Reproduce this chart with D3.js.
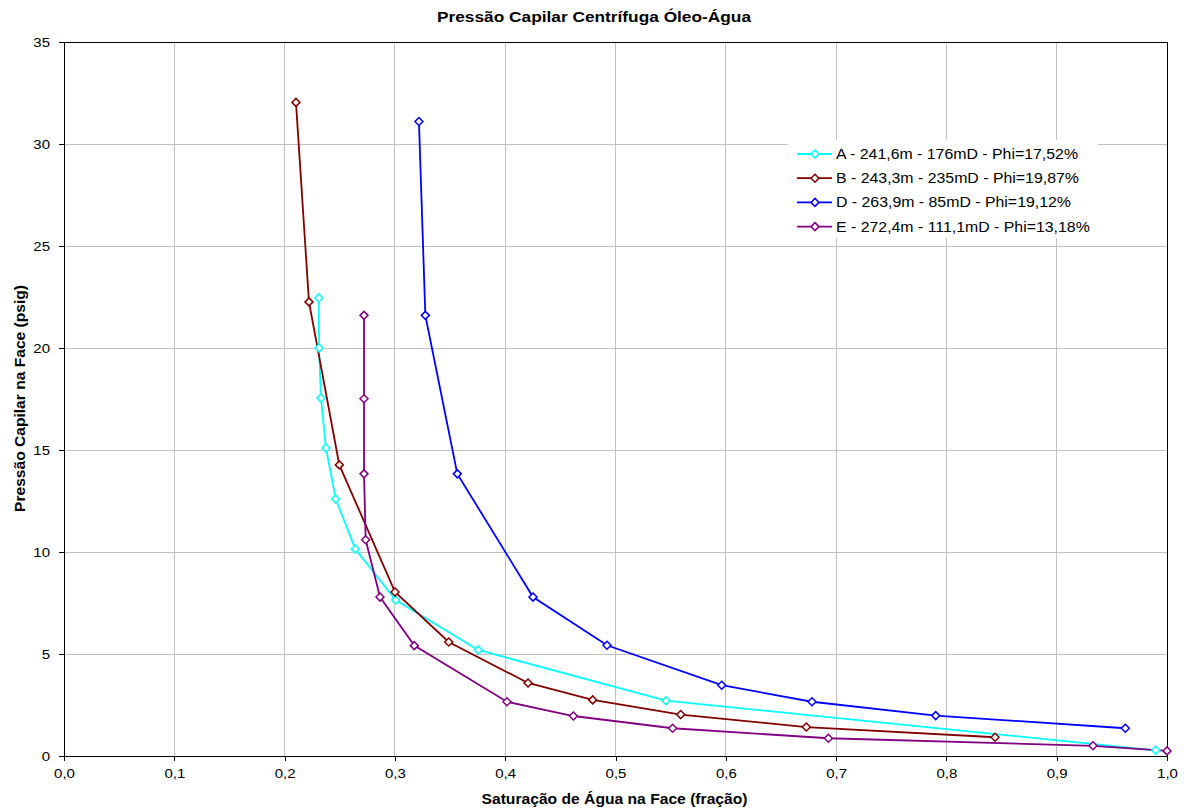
<!DOCTYPE html>
<html><head><meta charset="utf-8">
<script src="https://cdn.jsdelivr.net/npm/d3@7"></script>
<style>body{margin:0;background:#fff}text{font-family:"Liberation Sans",Arial,sans-serif}</style>
</head><body><svg id="c" width="1184" height="811"></svg>
<script>
const seriesNames = ["A - 241,6m - 176mD - Phi=17,52%","B - 243,3m - 235mD - Phi=19,87%","D - 263,9m - 85mD - Phi=19,12%","E - 272,4m - 111,1mD - Phi=13,18%"];
const seriesColors = ["#00FFFF","#800000","#0000FF","#800080"];
const swA = [0.231,0.2312,0.233,0.2375,0.2463,0.2641,0.3007,0.3756,0.5458,0.9898];
const pcA = [22.45,20.0,17.55,15.1,12.6,10.15,7.65,5.2,2.71,0.28];
const swB = [0.2103,0.2221,0.2496,0.3001,0.3488,0.4207,0.4793,0.5591,0.673,0.8441];
const pcB = [32.04,22.26,14.27,8.04,5.59,3.58,2.75,2.03,1.42,0.92];
const swD = [0.3218,0.3276,0.3566,0.4252,0.4923,0.5963,0.6781,0.7903,0.9622];
const pcD = [31.1,21.6,13.83,7.79,5.43,3.47,2.66,1.98,1.36];
const swE = [0.272,0.272,0.272,0.2735,0.2865,0.3176,0.4016,0.4618,0.5518,0.693,0.9329,1.0];
const pcE = [21.6,17.51,13.83,10.6,7.79,5.41,2.66,1.96,1.36,0.87,0.5,0.25];
const xTicks = [0,0.1,0.2,0.3,0.4,0.5,0.6,0.7,0.8,0.9,1.0];
const yTicks = [0,5,10,15,20,25,30,35];
const title = "Pressão Capilar Centrífuga Óleo-Água";
const xTitle = "Saturação de Água na Face (fração)";
const yTitle = "Pressão Capilar na Face (psig)";

const series = [[swA,pcA],[swB,pcB],[swD,pcD],[swE,pcE]].map((s,i)=>({name:seriesNames[i],color:seriesColors[i],pts:s[0].map((x,j)=>[x,s[1][j]])}));

const svg = d3.select("#c");
const L=64,R=1167,T=42,B=756;
const x = d3.scaleLinear().domain([0,1]).range([L,R]);
const y = d3.scaleLinear().domain([0,35]).range([B,T]);
const fmt = d=>d3.format(".1f")(d).replace(".",",");

function stretchTo(sel, w){ sel.attr("textLength", w).attr("lengthAdjust","spacingAndGlyphs"); }
function stretchBy(sel, k){ sel.each(function(){ const n=this.getComputedTextLength(); d3.select(this).attr("textLength", n*k).attr("lengthAdjust","spacingAndGlyphs"); }); }

// grid
svg.append("g").selectAll("line").data(xTicks.slice(1,-1)).join("line")
  .attr("x1",d=>x(d)).attr("x2",d=>x(d)).attr("y1",T).attr("y2",B)
  .attr("stroke","#c0c0c0").attr("stroke-width",1).attr("shape-rendering","crispEdges");
svg.append("g").selectAll("line").data(yTicks.slice(1,-1)).join("line")
  .attr("y1",d=>y(d)).attr("y2",d=>y(d)).attr("x1",L).attr("x2",R)
  .attr("stroke","#c0c0c0").attr("stroke-width",1).attr("shape-rendering","crispEdges");

// frame
svg.append("rect").attr("x",L).attr("y",T).attr("width",R-L).attr("height",B-T)
  .attr("fill","none").attr("stroke","#000").attr("stroke-width",1).attr("shape-rendering","crispEdges");

// axes
const xa = svg.append("g").attr("transform",`translate(0,${B})`)
  .call(d3.axisBottom(x).tickValues(xTicks).tickFormat(fmt).tickSizeOuter(0).tickSize(5).tickPadding(8));
const ya = svg.append("g").attr("transform",`translate(${L},0)`)
  .call(d3.axisLeft(y).tickValues(yTicks).tickFormat(d3.format("d")).tickSizeOuter(0).tickSize(5).tickPadding(9));
[xa,ya].forEach(a=>{a.select(".domain").attr("stroke","#000").attr("shape-rendering","crispEdges");
  a.selectAll(".tick line").attr("stroke","#000").attr("shape-rendering","crispEdges");
  a.selectAll("text").attr("font-size",12.5).attr("fill","#000").attr("font-family","Liberation Sans, Arial, sans-serif");
  stretchBy(a.selectAll("text"),1.2);});

// lines
const line = d3.line().x(d=>x(d[0])).y(d=>y(d[1]));
const diamond = (cx,cy,r)=>`M${cx},${cy-r}L${cx+r},${cy}L${cx},${cy+r}L${cx-r},${cy}Z`;
series.forEach(s=>{
  svg.append("path").attr("d",line(s.pts)).attr("fill","none").attr("stroke",s.color).attr("stroke-width",1.8);
});
series.forEach(s=>{
  svg.append("g").selectAll("path").data(s.pts).join("path")
    .attr("d",d=>diamond(x(d[0]),y(d[1]),4)).attr("fill","#fff").attr("stroke",s.color).attr("stroke-width",1.5);
});

// legend
const lg = svg.append("g");
lg.append("rect").attr("x",788).attr("y",140).attr("width",310).attr("height",98).attr("fill","#fff");
const ltexts=[];
series.forEach((s,i)=>{
  const yy = 154 + i*24.2;
  lg.append("line").attr("x1",797).attr("x2",832).attr("y1",yy).attr("y2",yy).attr("stroke",s.color).attr("stroke-width",1.8);
  lg.append("path").attr("d",diamond(815,yy,4)).attr("fill","#fff").attr("stroke",s.color).attr("stroke-width",1.5);
  ltexts.push(lg.append("text").attr("x",836).attr("y",yy+5).attr("font-size",14).attr("fill","#000").text(s.name));
});
const kL = 242/ltexts[0].node().getComputedTextLength();
ltexts.forEach(t=>stretchBy(t,kL));

// titles
const tt = svg.append("text").attr("x",437).attr("y",21.5).attr("font-size",14.5).attr("font-weight","bold").text(title);
stretchTo(tt,314);
const xt = svg.append("text").attr("x",481.5).attr("y",804).attr("font-size",14).attr("font-weight","bold").text(xTitle);
stretchTo(xt,266);
const yt = svg.append("text").attr("transform","translate(24.5,512) rotate(-90)").attr("font-size",14).attr("font-weight","bold").text(yTitle);
stretchTo(yt,227);
</script></body></html>
